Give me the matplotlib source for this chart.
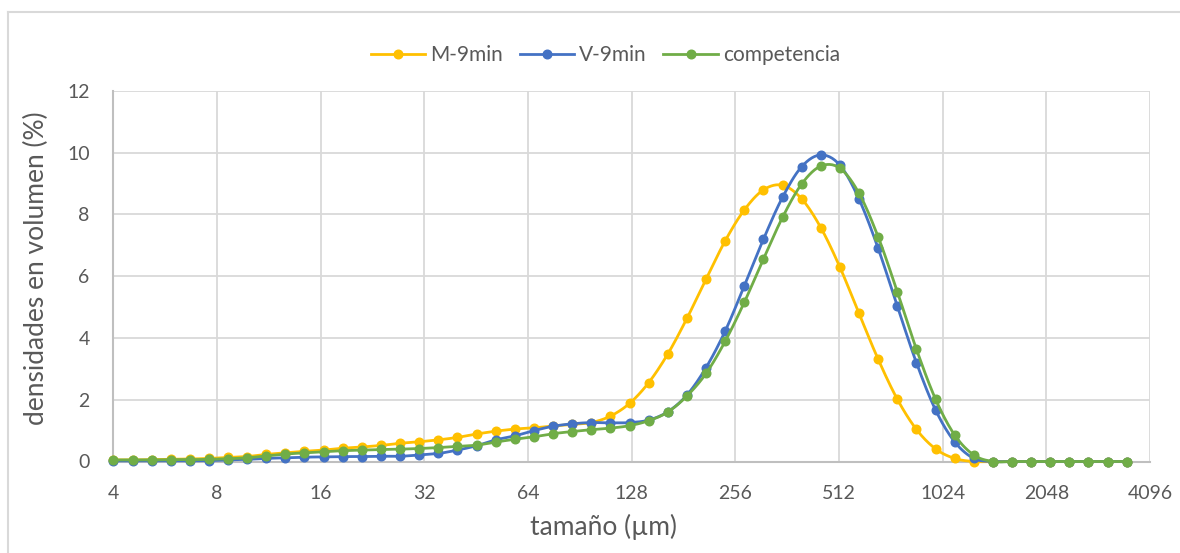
import numpy as np
import matplotlib.pyplot as plt
from matplotlib.lines import Line2D

# tamaños de partícula (µm), una clase cada ~0.18 octavas
tam = [4.00, 4.55, 5.17, 5.87, 6.67, 7.58, 8.61, 9.79, 11.12, 12.64,
       14.36, 16.32, 18.55, 21.08, 23.95, 27.22, 30.93, 35.15, 39.94, 45.39,
       51.58, 58.61, 66.61, 75.69, 86.02, 97.75, 111.1, 126.2, 143.4, 163.0,
       185.2, 210.5, 239.2, 271.8, 308.9, 351.0, 398.9, 453.3, 515.1, 585.4,
       665.2, 755.9, 859.0, 976.2, 1109, 1261, 1433, 1628, 1850, 2102,
       2389, 2715, 3085, 3506]

m9 = [0.05, 0.05, 0.06, 0.07, 0.08, 0.10, 0.13, 0.16, 0.23, 0.28,
      0.33, 0.37, 0.43, 0.47, 0.52, 0.59, 0.64, 0.70, 0.78, 0.89,
      0.98, 1.05, 1.09, 1.15, 1.20, 1.26, 1.47, 1.88, 2.55, 3.48,
      4.63, 5.90, 7.14, 8.14, 8.79, 8.94, 8.50, 7.57, 6.29, 4.79,
      3.31, 2.02, 1.04, 0.41, 0.10, 0.0, 0, 0, 0, 0,
      0, 0, 0, 0]

v9 = [0.02, 0.02, 0.02, 0.02, 0.02, 0.03, 0.05, 0.07, 0.10, 0.12,
      0.14, 0.15, 0.16, 0.16, 0.17, 0.17, 0.21, 0.26, 0.37, 0.51,
      0.70, 0.83, 1.00, 1.14, 1.22, 1.26, 1.25, 1.26, 1.34, 1.61,
      2.15, 3.04, 4.22, 5.68, 7.19, 8.55, 9.54, 9.92, 9.59, 8.49,
      6.90, 5.03, 3.20, 1.67, 0.64, 0.10, 0, 0, 0, 0,
      0, 0, 0, 0]

comp = [0.05, 0.05, 0.05, 0.06, 0.06, 0.07, 0.09, 0.12, 0.18, 0.24,
        0.28, 0.32, 0.35, 0.37, 0.39, 0.40, 0.42, 0.45, 0.49, 0.53,
        0.63, 0.72, 0.80, 0.90, 0.97, 1.03, 1.08, 1.16, 1.32, 1.60,
        2.12, 2.85, 3.89, 5.15, 6.55, 7.90, 8.98, 9.56, 9.49, 8.68,
        7.27, 5.50, 3.64, 2.02, 0.86, 0.21, 0, 0, 0, 0,
        0, 0, 0, 0]

series = [("M-9min", m9, "#FFC000"),
          ("V-9min", v9, "#4472C4"),
          ("competencia", comp, "#70AD47")]

xticks = [4, 8, 16, 32, 64, 128, 256, 512, 1024, 2048, 4096]


def suavizar(x, y, n=16):
    # curva suave tipo Excel (Catmull-Rom en espacio log2)
    P = np.column_stack([np.log2(x), y])
    P = np.vstack([P[0], P, P[-1]])
    t = np.linspace(0, 1, n)[:, None]
    out = []
    for i in range(1, len(P) - 2):
        p0, p1, p2, p3 = P[i - 1], P[i], P[i + 1], P[i + 2]
        c1 = p1 + (p2 - p0) / 6
        c2 = p2 - (p3 - p1) / 6
        b = ((1 - t)**3) * p1 + 3 * ((1 - t)**2) * t * c1 + 3 * (1 - t) * t**2 * c2 + t**3 * p2
        out.append(b)
    out = np.vstack(out)
    return 2**out[:, 0], out[:, 1]


plt.rcParams['font.family'] = ['Lato', 'DejaVu Sans']

W, H = 1180, 553
fig = plt.figure(figsize=(W / 100, H / 100), dpi=100)
ax = fig.add_axes([113.3 / W, 1 - 461.5 / H, (1150 - 113.3) / W, (461.5 - 90.7) / H])

# marco exterior del gráfico
fig.add_artist(Line2D([8 / W, 8 / W], [0, 1 - 12 / H], color="#d9d9d9", lw=1.5, transform=fig.transFigure))
fig.add_artist(Line2D([8 / W, 1], [1 - 12 / H, 1 - 12 / H], color="#d9d9d9", lw=1.5, transform=fig.transFigure))

for nombre, vals, col in series:
    xs, ys = suavizar(tam, vals)
    ax.plot(xs, ys, color=col, lw=2.0, zorder=3, solid_capstyle="round", clip_on=False)
    ax.plot(tam, vals, "o", color=col, ms=6.2, zorder=3, clip_on=False)

ax.set_xscale("log", base=2)
ax.set_xlim(4, 4096)
ax.set_ylim(0, 12)
ax.set_xticks(xticks)
ax.set_xticklabels([str(v) for v in xticks])
ax.set_yticks(range(0, 13, 2))
ax.minorticks_off()
ax.grid(True, color="#d9d9d9", lw=1.3)
ax.set_axisbelow(True)
for s in ["top", "right"]:
    ax.spines[s].set_visible(False)
for s in ["left", "bottom"]:
    ax.spines[s].set_color("#bfbfbf")
    ax.spines[s].set_linewidth(1.5)
ax.tick_params(length=0, labelsize=14, labelcolor="#595959")
ax.tick_params(axis="x", pad=17)
ax.tick_params(axis="y", pad=17)

fig.text(604 / W, 1 - 527 / H, "tamaño (µm)", ha="center", va="center", fontsize=19, color="#595959")
fig.text(36 / W, 1 - 268 / H, "densidades en volumen (%)", ha="center", va="center",
         rotation=90, fontsize=19, color="#595959")

handles = [Line2D([], [], color=c, lw=2.0, marker="o", ms=6.2) for _, _, c in series]
fig.legend(handles, [s[0] for s in series], loc="center", bbox_to_anchor=(605.5 / W, 1 - 55 / H),
           ncol=3, frameon=False, fontsize=15, handlelength=2.6, handletextpad=0.25,
           columnspacing=0.8, labelcolor="#595959")

fig.savefig("out.png", dpi=100)
